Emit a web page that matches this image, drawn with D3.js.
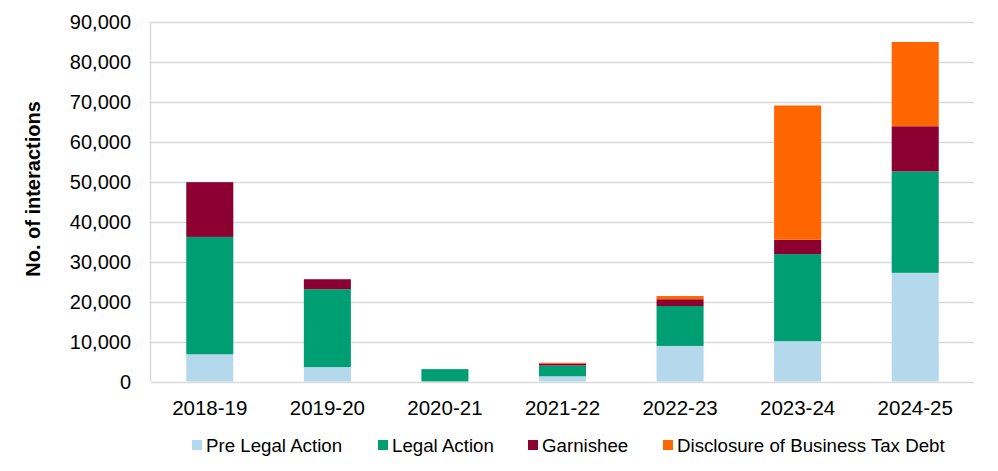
<!DOCTYPE html>
<html>
<head>
<meta charset="utf-8">
<script src="https://cdn.jsdelivr.net/npm/d3@7"></script>
<style>
  body { margin: 0; background: #fff; }
  svg { display: block; font-family: "Liberation Sans", Arial, sans-serif; }
</style>
</head>
<body>
<div id="chart"></div>
<script>
// Data
const years = ["2018-19", "2019-20", "2020-21", "2021-22", "2022-23", "2023-24", "2024-25"];
const preLegal   = [6800, 3600, 0, 1300, 8900, 10100, 27200];
const legal      = [29400, 19500, 3100, 2700, 10000, 21800, 25400];
const garnishee  = [13700, 2500, 0, 500, 1700, 3600, 11300];
const disclosure = [0, 0, 0, 200, 800, 33600, 21100];
const seriesNames = ["Pre Legal Action", "Legal Action", "Garnishee", "Disclosure of Business Tax Debt"];
const seriesColors = ["#b4d9ec", "#009e73", "#8b0030", "#ff6600"];
const yTicks = [0, 10000, 20000, 30000, 40000, 50000, 60000, 70000, 80000, 90000];

const width = 998, height = 471;
const margin = {top: 22, right: 24, bottom: 90, left: 151};

const rows = years.map((y, i) => ({
  year: y,
  "Pre Legal Action": preLegal[i],
  "Legal Action": legal[i],
  "Garnishee": garnishee[i],
  "Disclosure of Business Tax Debt": disclosure[i]
}));
const stacked = d3.stack().keys(seriesNames)(rows);

const svg = d3.select("#chart").append("svg")
    .attr("width", width)
    .attr("height", height);

const x = d3.scaleBand()
    .domain(years)
    .range([margin.left, width - margin.right])
    .paddingInner(0.6)
    .paddingOuter(0.3);

const y = d3.scaleLinear()
    .domain([0, 90000])
    .range([height - margin.bottom + 0.5, margin.top]);

// gridlines
svg.append("g")
  .selectAll("line")
  .data(yTicks.slice(1))
  .join("line")
    .attr("x1", margin.left)
    .attr("x2", width - margin.right)
    .attr("y1", d => Math.round(y(d)) + 0.5)
    .attr("y2", d => Math.round(y(d)) + 0.5)
    .attr("stroke", "#d9d9d9")
    .attr("stroke-width", 1.5);

// y tick labels
svg.append("g")
    .style("font-size", "20px")
    .attr("text-anchor", "end")
  .selectAll("text")
  .data(yTicks)
  .join("text")
    .attr("x", 131)
    .attr("y", d => y(d))
    .attr("dy", "0.35em")
    .attr("fill", "#000")
    .text(d => d3.format(",")(d));

// bars
svg.append("g")
  .selectAll("g")
  .data(stacked)
  .join("g")
    .attr("fill", (d, i) => seriesColors[i])
  .selectAll("rect")
  .data(d => d)
  .join("rect")
    .attr("x", d => x(d.data.year))
    .attr("width", x.bandwidth())
    .attr("y", d => y(d[1]))
    .attr("height", d => Math.max(0, y(d[0]) - y(d[1])));

// axis lines
svg.append("line")
    .attr("x1", margin.left - 0.5).attr("x2", margin.left - 0.5)
    .attr("y1", margin.top).attr("y2", y(0))
    .attr("stroke", "#d9d9d9").attr("stroke-width", 1.5);
svg.append("line")
    .attr("x1", margin.left).attr("x2", width - margin.right)
    .attr("y1", Math.round(y(0)) + 0.5).attr("y2", Math.round(y(0)) + 0.5)
    .attr("stroke", "#d9d9d9").attr("stroke-width", 1.5);

// x labels
svg.append("g")
    .style("font-size", "20.5px")
    .attr("text-anchor", "middle")
  .selectAll("text")
  .data(years)
  .join("text")
    .attr("x", d => x(d) + x.bandwidth() / 2)
    .attr("y", 407.5)
    .attr("dy", "0.35em")
    .text(d => d);

// y axis title
svg.append("text")
    .attr("transform", "translate(33, 189) rotate(-90)")
    .attr("text-anchor", "middle")
    .attr("dy", "0.35em")
    .style("font-size", "20px")
    .style("font-weight", "bold")
    .text("No. of interactions");

// legend
const legendX = [192, 378, 528, 663];
const legend = svg.append("g")
  .selectAll("g")
  .data(seriesNames)
  .join("g")
    .attr("transform", (d, i) => `translate(${legendX[i]}, 445)`);
legend.append("rect")
    .attr("x", 0).attr("y", -5)
    .attr("width", 10).attr("height", 10)
    .attr("fill", (d, i) => seriesColors[i]);
legend.append("text")
    .attr("x", 14)
    .attr("dy", "0.35em")
    .style("font-size", "18.7px")
    .text(d => d);
</script>
</body>
</html>
